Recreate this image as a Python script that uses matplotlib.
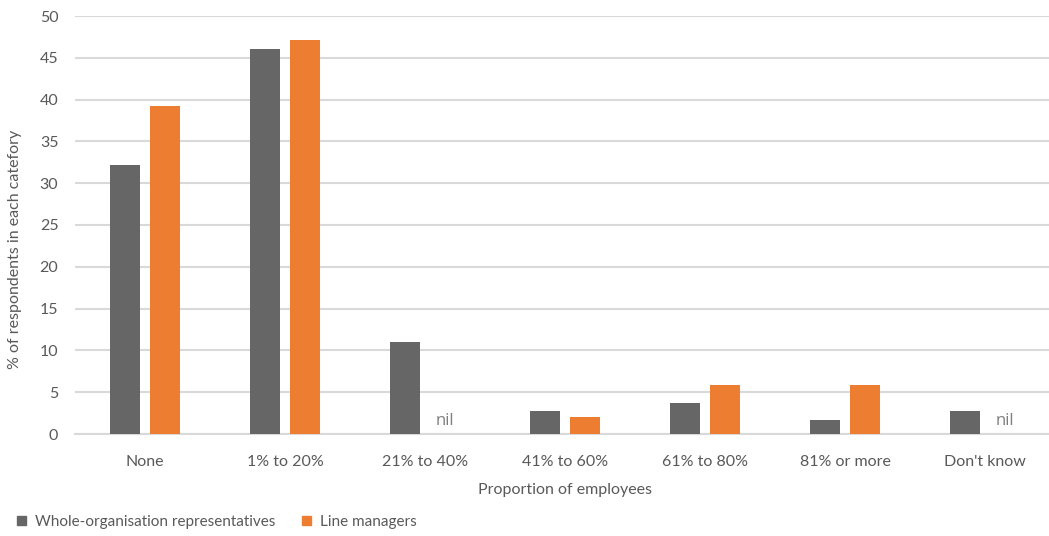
import matplotlib
matplotlib.use("Agg")
import matplotlib.pyplot as plt
import numpy as np
from matplotlib.patches import Patch

categories = ["None", "1% to 20%", "21% to 40%", "41% to 60%", "61% to 80%", "81% or more", "Don't know"]
whole_org = [32.2, 46, 11, 2.8, 3.7, 1.7, 2.8]
line_mgrs = [39.2, 47.1, None, 2, 5.9, 5.9, None]
series_names = ["Whole-organisation representatives", "Line managers"]
yticks = [0, 5, 10, 15, 20, 25, 30, 35, 40, 45, 50]

plt.rcParams['font.family'] = ['Lato', 'DejaVu Sans']
text_color = "#595959"
gray = "#666666"
orange = "#ED7D31"

fig = plt.figure(figsize=(10.49, 5.36), dpi=100)
ax = fig.add_axes([75/1049, 1-434/536, 980/1049, (434-16)/536])

x = np.arange(len(categories))
w = 0.215
off = 0.143
for i, v in enumerate(whole_org):
    if v is not None:
        ax.bar(x[i] - off, v, w, color=gray, zorder=3)
for i, v in enumerate(line_mgrs):
    if v is not None:
        ax.bar(x[i] + off, v, w, color=orange, zorder=3)
    else:
        ax.text(x[i] + off, 1.6, "nil", ha="center", va="center",
                fontsize=12, color="#7f7f7f", family=['Open Sans', 'DejaVu Sans'])

ax.set_xlim(-0.5, len(categories) - 0.5)
ax.set_ylim(0, 50)
ax.set_yticks(yticks)
ax.set_xticks(x)
ax.set_xticklabels(categories)
ax.yaxis.grid(True, color="#d9d9d9", linewidth=1.5, zorder=0)
ax.set_axisbelow(True)
for s in ["top", "right", "left"]:
    ax.spines[s].set_visible(False)
ax.spines["bottom"].set_color("#d9d9d9")
ax.spines["bottom"].set_linewidth(1.5)
ax.tick_params(axis="both", length=0, labelsize=11.5, colors=text_color)
ax.tick_params(axis="x", pad=15)
ax.tick_params(axis="y", pad=12)

ax.set_xlabel("Proportion of employees", fontsize=11.5, color=text_color, labelpad=10)
fig.text(15/1049, 1-249/536, "% of respondents in each catefory", rotation=90,
         ha="center", va="center", fontsize=11.5, color=text_color)

handles = [Patch(color=gray), Patch(color=orange)]
fig.legend(handles, series_names, loc="center left", bbox_to_anchor=(0.003, 1-522/536),
           ncol=2, frameon=False, fontsize=11, handlelength=0.6, handleheight=0.6,
           handletextpad=0.6, columnspacing=1.7, labelcolor=text_color)

fig.savefig("out.png", dpi=100)
